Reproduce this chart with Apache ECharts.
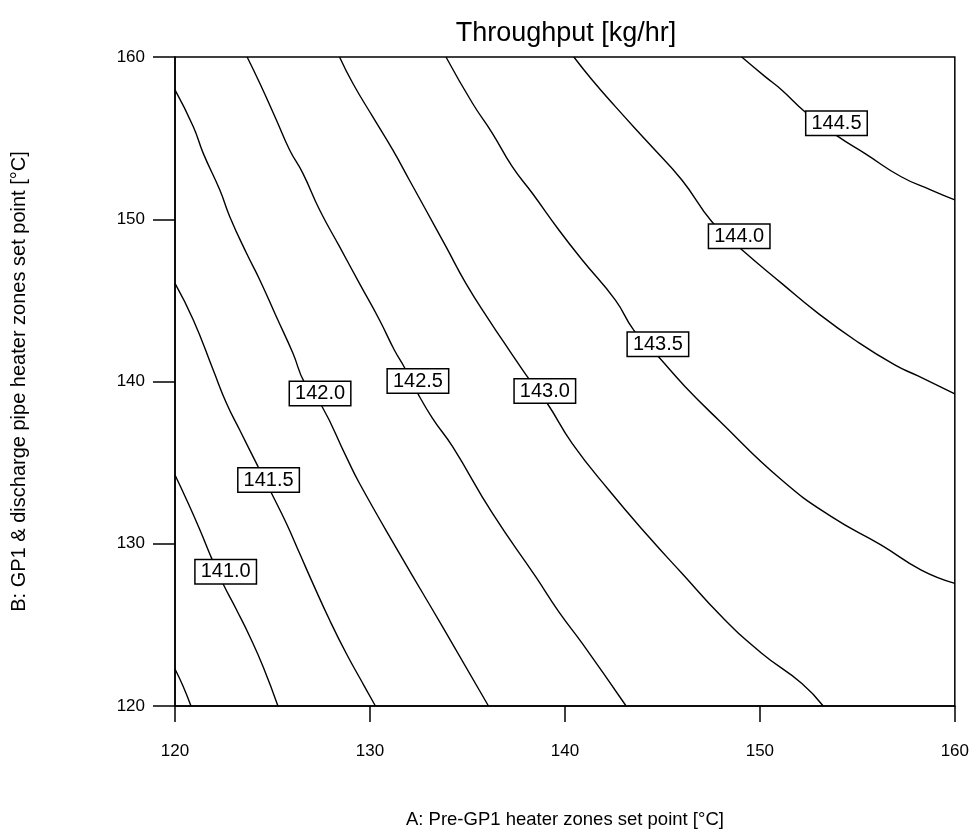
<!DOCTYPE html>
<html>
<head>
<meta charset="utf-8">
<script src="https://cdn.jsdelivr.net/npm/echarts@6/dist/echarts.min.js"></script>
<style>
html,body{margin:0;padding:0;background:#fff;}
#chart{width:972px;height:835px;}
</style>
</head>
<body>
<div id="chart"></div>
<script>
// Axis ticks
var xTicks = [120, 130, 140, 150, 160];
var yTicks = [120, 130, 140, 150, 160];

// Contour levels
var levels = ['140.5', '141.0', '141.5', '142.0', '142.5', '143.0', '143.5', '144.0', '144.5'];

// Contour lines: [A, B]
var c1405 = [[120,122.28],[120.41,121.23],[120.82,120]];
var c1410 = [[120,134.24],[120.60,132.70],[121.28,130.85],[121.88,129.10],[122.47,127.52],[123.16,125.92],[123.84,124.27],[124.52,122.42],[125.28,120]];
var c1415 = [[120,146.05],[120.94,143.79],[121.96,140.71],[122.64,138.66],[123.32,137.01],[124.26,134.75],[124.95,133.11],[125.71,131.26],[126.39,129.41],[127.07,127.56],[127.93,125.30],[128.78,123.25],[129.63,121.40],[130.28,120]];
var c1420 = [[120,157.97],[120.94,155.70],[121.45,154.06],[122.30,151.80],[122.81,150.16],[123.67,147.90],[124.35,146.26],[125.20,143.99],[126.05,141.74],[126.65,139.91],[127.50,138.55],[128.78,135.37],[129.46,133.73],[131.51,129.41],[133.72,124.89],[136.08,120]];
var c1425 = [[123.70,160],[124.35,158.38],[125.20,156.12],[125.88,154.27],[126.56,152.83],[127.42,150.57],[128.44,148.31],[129.46,146.05],[130.49,143.79],[131.25,141.94],[131.75,140.91],[132.45,139.27],[133.21,137.73],[134.24,135.98],[136.28,131.88],[138.50,127.97],[139.69,125.80],[140.89,123.86],[143.14,120]];
var c1430 = [[128.44,160],[129.12,158.38],[130.14,156.32],[131.17,154.27],[132.02,152.42],[132.87,150.57],[133.90,148.31],[134.92,146.05],[136.11,143.79],[137.14,141.94],[138.07,140.30],[139.09,138.66],[140.37,136.19],[142.25,133.31],[144.30,130.43],[146.00,128.18],[148.05,125.50],[150.09,123.25],[152.14,121.40],[153.25,120]];
var c1435 = [[133.90,160],[135.26,157.15],[136.28,155.30],[137.30,153.24],[138.33,151.60],[139.69,149.34],[140.89,147.49],[142.59,145.02],[143.53,143.17],[144.72,141.63],[146.17,139.68],[147.88,137.63],[151.12,133.93],[153.67,131.67],[156.23,129.92],[158.28,128.38],[160,127.56]];
var c1440 = [[140.46,160],[141.40,158.58],[142.59,156.94],[144.30,154.68],[146.00,152.42],[147.54,149.85],[148.99,148.21],[151.12,146.05],[152.99,144.20],[154.87,142.56],[156.92,141.02],[158.11,140.34],[160,139.23]];
var c1445 = [[149.07,160],[150.27,158.79],[151.12,157.97],[152.31,156.63],[154.02,155.09],[155.38,154.06],[157.25,152.62],[158.79,151.80],[160,151.19]];

var contours = [c1405, c1410, c1415, c1420, c1425, c1430, c1435, c1440, c1445];

// Contour label positions: [A, B, text]
var labelPts = [
  [122.60, 128.28, '141.0'],
  [124.80, 133.93, '141.5'],
  [127.44, 139.26, '142.0'],
  [132.46, 140.03, '142.5'],
  [138.97, 139.41, '143.0'],
  [144.77, 142.30, '143.5'],
  [148.94, 148.95, '144.0'],
  [153.93, 155.91, '144.5']
];

var FONT = 'Liberation Sans, Arial, sans-serif';
var chart = echarts.init(document.getElementById('chart'), null, {renderer: 'canvas'});

var series = contours.map(function (c, i) {
  return {
    type: 'line',
    name: levels[i],
    data: c,
    smooth: 0.5,
    symbol: 'none',
    clip: true,
    lineStyle: {color: '#000', width: 1.4},
    z: 2,
    silent: true
  };
});

series.push({
  type: 'scatter',
  data: labelPts,
  symbolSize: 1,
  itemStyle: {opacity: 0},
  z: 10,
  silent: true,
  label: {
    show: true,
    position: 'inside',
    formatter: function (p) { return p.value[2]; },
    color: '#000',
    opacity: 1,
    fontFamily: FONT,
    fontSize: 20,
    lineHeight: 20,
    backgroundColor: '#fff',
    borderColor: '#000',
    borderWidth: 1.5,
    padding: [2, 5, 1, 5]
  }
});

chart.setOption({
  animation: false,
  backgroundColor: '#fff',
  graphic: [{
    type: 'text',
    x: 566,
    y: 20,
    style: {
      text: 'Throughput [kg/hr]',
      fontFamily: FONT,
      fontSize: 27,
      fill: '#000',
      textAlign: 'center',
      textVerticalAlign: 'top'
    }
  }],
  grid: {
    left: 175, right: 15, top: 57, bottom: 129,
    show: true, borderColor: '#000', borderWidth: 1.5, backgroundColor: 'transparent'
  },
  xAxis: {
    type: 'value',
    min: xTicks[0], max: xTicks[xTicks.length - 1], interval: 10,
    name: 'A: Pre-GP1 heater zones set point [°C]',
    nameLocation: 'middle',
    nameGap: 104,
    nameTextStyle: {fontFamily: FONT, fontSize: 18.5, color: '#000'},
    axisLine: {show: true, lineStyle: {color: '#000', width: 1.5}},
    axisTick: {show: true, inside: false, length: 16, lineStyle: {color: '#000', width: 1.5}},
    axisLabel: {color: '#000', fontFamily: FONT, fontSize: 17, margin: 37},
    splitLine: {show: false}
  },
  yAxis: {
    type: 'value',
    min: yTicks[0], max: yTicks[yTicks.length - 1], interval: 10,
    name: 'B: GP1 & discharge pipe heater zones set point [°C]',
    nameLocation: 'middle',
    nameGap: 146,
    nameRotate: 90,
    nameTextStyle: {fontFamily: FONT, fontSize: 20, color: '#000'},
    axisLine: {show: true, lineStyle: {color: '#000', width: 1.5}},
    axisTick: {show: true, inside: false, length: 22, lineStyle: {color: '#000', width: 1.5}},
    axisLabel: {color: '#000', fontFamily: FONT, fontSize: 17, margin: 30},
    splitLine: {show: false}
  },
  series: series
});
</script>
</body>
</html>
